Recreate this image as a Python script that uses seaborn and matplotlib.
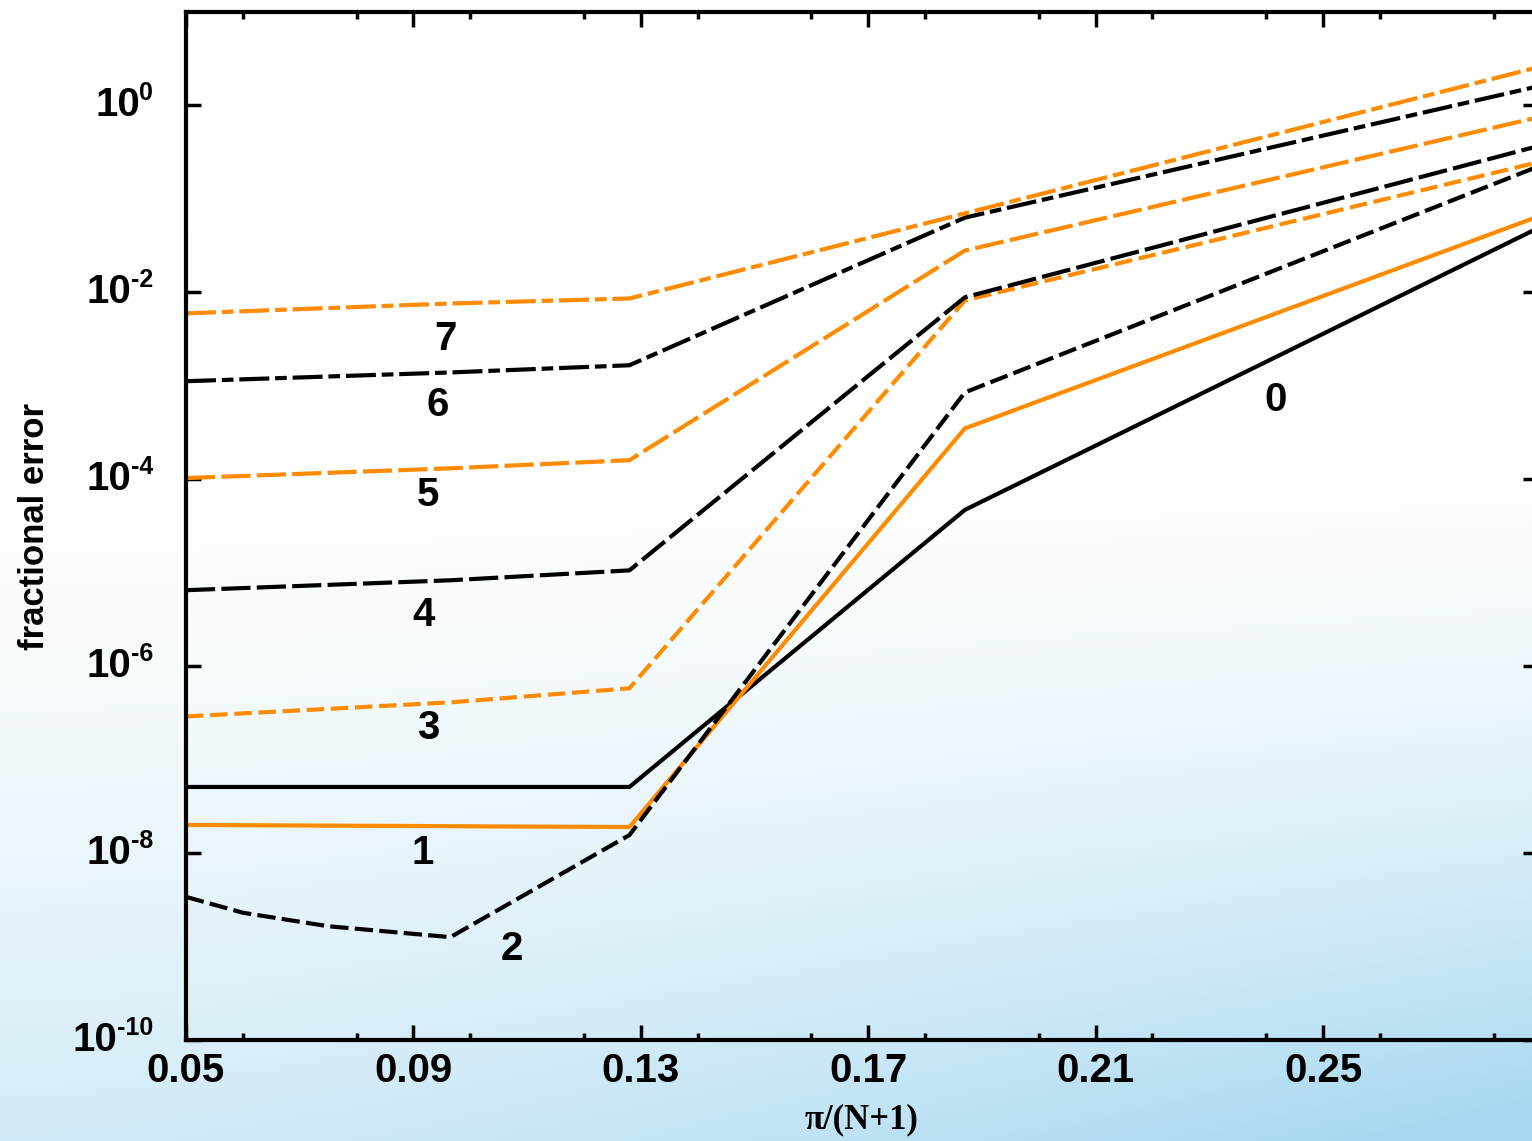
import numpy as np
import pandas as pd
import matplotlib
matplotlib.use("Agg")
import matplotlib.pyplot as plt
import seaborn as sns
from matplotlib import font_manager as fm
from matplotlib.ticker import FixedLocator, MultipleLocator, NullLocator
from matplotlib.transforms import offset_copy

# ---------------- data ----------------
x5 = [0.05, 0.0965, 0.128, 0.187, 0.287]
x_err0 = [0.05, 0.128, 0.187, 0.287]
err0 = [5.1e-8, 5.1e-8, 4.7e-5, 4.6e-2]
x_err1 = [0.05, 0.128, 0.187, 0.287]
err1 = [2.0e-8, 1.9e-8, 3.5e-4, 6.2e-2]
x_err2 = [0.05, 0.06, 0.075, 0.0965, 0.128, 0.187, 0.287]
err2 = [3.4e-9, 2.3e-9, 1.65e-9, 1.26e-9, 1.56e-8, 8.5e-4, 0.212]
err3 = [2.9e-7, 4.1e-7, 5.8e-7, 8.2e-3, 0.24]
err4 = [6.5e-6, 8.3e-6, 1.06e-5, 8.85e-3, 0.356]
err5 = [1.03e-4, 1.31e-4, 1.6e-4, 2.8e-2, 0.726]
err6 = [1.12e-3, 1.39e-3, 1.66e-3, 6.3e-2, 1.56]
err7 = [5.96e-3, 7.6e-3, 8.6e-3, 7.0e-2, 2.49]

orders = ["0", "1", "2", "3", "4", "5", "6", "7"]
label_x = [0.2416, 0.0917, 0.1073, 0.0926, 0.0917, 0.0926, 0.0943, 0.0956]
label_y = [7.0e-4, 1.0e-8, 9.5e-10, 2.2e-7, 3.5e-6, 6.8e-5, 6.2e-4, 3.2e-3]

ytick_vals = [1e-10, 1e-8, 1e-6, 1e-4, 1e-2, 1e0]
ytick_base = ["10", "10", "10", "10", "10", "10"]
ytick_exp = ["-10", "-8", "-6", "-4", "-2", "0"]
xtick_vals = [0.05, 0.09, 0.13, 0.17, 0.21, 0.25]
xtick_labels = ["0.05", "0.09", "0.13", "0.17", "0.21", "0.25"]

series = {
    "0": (x_err0, err0), "1": (x_err1, err1), "2": (x_err2, err2),
    "3": (x5, err3), "4": (x5, err4), "5": (x5, err5), "6": (x5, err6), "7": (x5, err7),
}
rows = []
for k, (xs, ys) in series.items():
    for xv, yv in zip(xs, ys):
        rows.append({"x": xv, "err": yv, "order": k})
df = pd.DataFrame(rows)

# ---------------- style ----------------
sns.set_theme(style="ticks")
names = {f.name for f in fm.fontManager.ttflist}
sans = "Liberation Sans Narrow" if "Liberation Sans Narrow" in names else "Liberation Sans"
serif = "Liberation Serif" if "Liberation Serif" in names else "DejaVu Serif"
plt.rcParams["font.family"] = [sans, "DejaVu Sans"]
plt.rcParams["text.color"] = "black"
plt.rcParams["axes.labelcolor"] = "black"
plt.rcParams["xtick.color"] = "black"
plt.rcParams["ytick.color"] = "black"

ORANGE = "#FF8C00"
palette = {"0": "black", "1": ORANGE, "2": "black", "3": ORANGE,
           "4": "black", "5": ORANGE, "6": "black", "7": ORANGE}
dashes = {"0": "", "1": "", "2": (4.4, 1.5), "3": (4.2, 1.6),
          "4": (7.0, 1.5), "5": (7.0, 1.5), "6": (7.2, 1.4, 2.8, 1.4), "7": (7.2, 1.4, 2.8, 1.4)}

W, H = 1532, 1141
fig = plt.figure(figsize=(W / 100, H / 100), dpi=100)

# background gradient
bg = fig.add_axes([0, 0, 1, 1], zorder=-10)
yy, xx = np.mgrid[0:1:300j, 0:1:400j]
g = np.clip((yy - 0.35) / 0.65, 0, 1) ** 1.8 * (0.45 + 0.55 * xx ** 1.5)
g = np.clip(g + 0.05 * np.clip((yy - 0.2) / 0.8, 0, 1), 0, 1)
c0 = np.array([1.0, 1.0, 1.0])
c1 = np.array([165, 215, 240]) / 255
img = c0[None, None, :] * (1 - g[..., None]) + c1[None, None, :] * g[..., None]
bg.imshow(img, aspect="auto", extent=[0, 1, 0, 1], origin="upper")
bg.axis("off")

left = 186 / W
bottom = 1 - 1040 / H
top = 1 - 12 / H
right = 1538 / W
ax = fig.add_axes([left, bottom, right - left, top - bottom])
ax.set_facecolor("none")

sns.lineplot(data=df, x="x", y="err", hue="order", style="order", palette=palette,
             dashes=dashes, linewidth=3.0, estimator=None, sort=False, legend=False, ax=ax)

ax.set_yscale("log")
ax.set_ylim(1e-10, 10)
ax.set_xlim(0.05, 0.05 + 1352 / 5685)

ax.yaxis.set_major_locator(FixedLocator(ytick_vals))
ax.yaxis.set_minor_locator(NullLocator())
ax.set_yticklabels([])
ax.xaxis.set_major_locator(FixedLocator(xtick_vals))
ax.xaxis.set_minor_locator(MultipleLocator(0.02))
ax.set_xticklabels(xtick_labels)

for s in ax.spines.values():
    s.set_linewidth(3)
    s.set_color("black")
ax.tick_params(which="both", direction="in", top=True, right=True, color="black", width=2.5)
ax.tick_params(which="major", length=11)
ax.tick_params(which="minor", length=5)
ax.tick_params(axis="x", which="major", labelsize=29, pad=9, labelcolor="black")
for t in ax.get_xticklabels():
    t.set_fontweight("bold")

# y tick labels: "10" with small superscript exponent, whole label right-aligned
ytr = ax.get_yaxis_transform()
label_right = (153 - 186) / 1352
exp_texts = []
for v, e in zip(ytick_vals, ytick_exp):
    exp_texts.append(ax.text(label_right, v, e, transform=ytr, fontsize=18, fontweight="bold",
                             ha="right", va="bottom", color="black"))
fig.canvas.draw()
renderer = fig.canvas.get_renderer()
for v, b, et in zip(ytick_vals, ytick_base, exp_texts):
    w_pts = et.get_window_extent(renderer).width * 72 / fig.dpi
    tr = offset_copy(ytr, fig=fig, x=-w_pts + 0.5, y=0, units="points")
    ax.text(label_right, v, b, transform=tr, fontsize=29, fontweight="bold",
            ha="right", va="center", color="black")

ax.set_ylabel("fractional error", fontsize=25, fontweight="bold", color="black")
ax.yaxis.set_label_coords(-0.1, 0.5)
ax.set_xlabel("π/(N+1)", fontsize=25, fontweight="bold", family=[serif, "DejaVu Serif"], color="black")
ax.xaxis.set_label_coords(0.5, -0.062)
ax.xaxis.label.set_va("top")

for name, lx, ly in zip(orders, label_x, label_y):
    ax.text(lx, ly, name, fontsize=29, fontweight="bold", ha="center", va="center", color="black")

fig.savefig("out.png", dpi=100)
